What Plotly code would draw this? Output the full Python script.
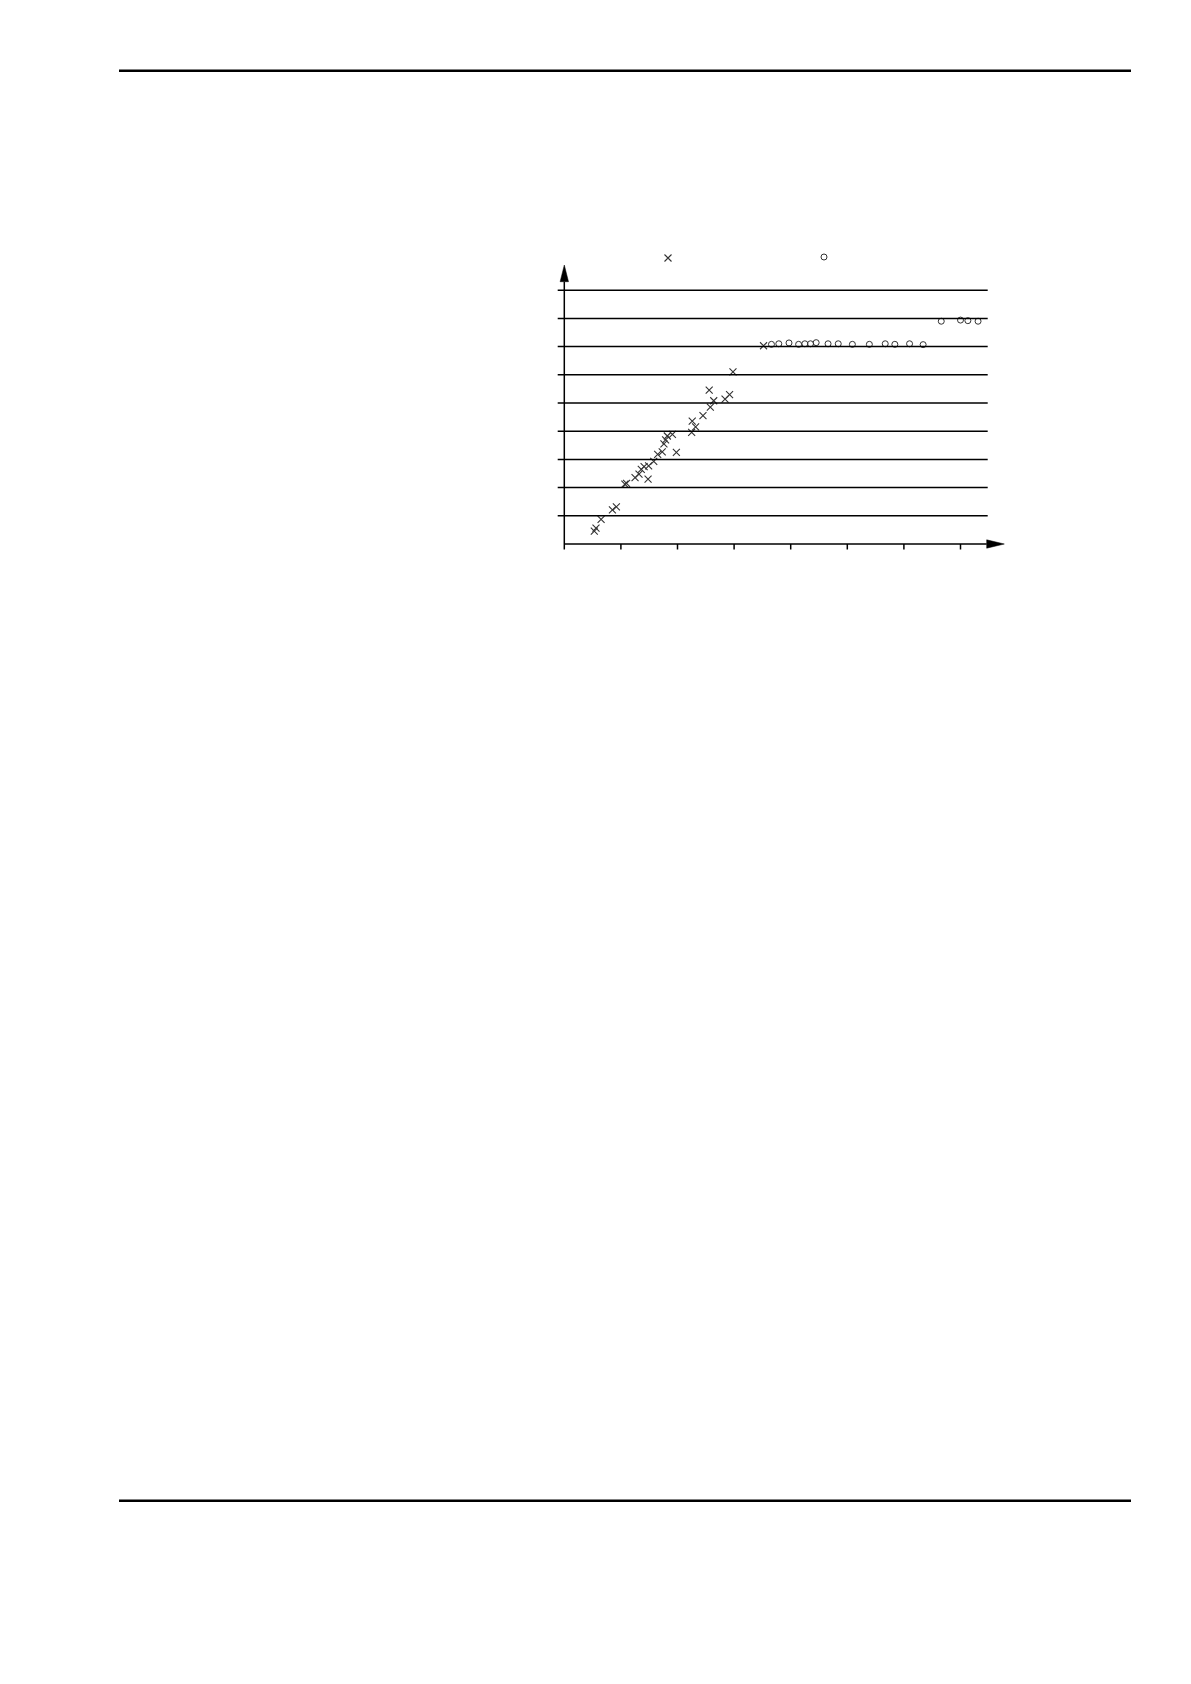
import plotly.graph_objects as go

# ---------------- data ----------------
cross_x = [0.53, 0.56, 0.65, 0.85, 0.92, 1.07, 1.10, 1.25, 1.32, 1.36, 1.41, 1.48, 1.49,
           1.58, 1.65, 1.73, 1.76, 1.79, 1.82, 1.91, 1.98, 2.25, 2.26, 2.32, 2.45, 2.56,
           2.58, 2.64, 2.84, 2.92, 2.98, 3.52]
cross_y = [0.46, 0.56, 0.87, 1.21, 1.32, 2.12, 2.15, 2.35, 2.48, 2.65, 2.74, 2.30, 2.77,
           2.93, 3.18, 3.27, 3.55, 3.69, 3.83, 3.89, 3.25, 3.96, 4.36, 4.15, 4.55, 5.46,
           4.85, 5.08, 5.14, 5.30, 6.10, 7.03]

circle_x = [3.66, 3.79, 3.97, 4.14, 4.25, 4.35, 4.45, 4.66, 4.84, 5.09, 5.39, 5.67, 5.84,
            6.10, 6.34, 6.66, 7.00, 7.13, 7.31]
circle_y = [7.08, 7.10, 7.13, 7.08, 7.10, 7.10, 7.14, 7.10, 7.10, 7.08, 7.08, 7.10, 7.08,
            7.10, 7.07, 7.90, 7.94, 7.92, 7.90]

x_ticks = [0, 1, 2, 3, 4, 5, 6, 7]
y_grid = [1, 2, 3, 4, 5, 6, 7, 8, 9]

# ---------------- layout constants ----------------
W, H = 1191, 1684
OFF = 8.0                    # page body margin compensation
X0_PX, XU = 564.3 - OFF, 56.6   # pixel of x=0, pixels per x unit
Y0_PX, YU = 544.0 - OFF, 28.2   # pixel (from top) of y=0, pixels per y unit

def px_x(p):
    return (p - OFF - X0_PX) / XU

def px_y(p):
    return (Y0_PX - (p - OFF)) / YU

x_range = [(0 - X0_PX) / XU, (W - X0_PX) / XU]
y_range = [(Y0_PX - H) / YU, Y0_PX / YU]

grid_x0 = px_x(557.7)
grid_x1 = px_x(987.7)
yaxis_top = px_y(281.7)
yarrow_tip = px_y(265.0)
xaxis_end = px_x(986.7)
xarrow_tip = px_x(1004.3)
xtick_len = px_y(549.5)
arrow_hw_x = 4.2 / XU
arrow_hw_y = 4.2 / YU

LINE = "#000000"
LW = 1.5

fig = go.Figure()

fig.add_trace(go.Scatter(
    x=cross_x, y=cross_y, mode="markers", name=" ",
    marker=dict(symbol="x-thin-open", size=7, color="#333333",
                line=dict(width=1.1, color="#333333")),
    legend="legend", showlegend=True,
))
fig.add_trace(go.Scatter(
    x=circle_x, y=circle_y, mode="markers", name=" ",
    marker=dict(symbol="circle-open", size=6, color="#333333",
                line=dict(width=1, color="#333333")),
    legend="legend2", showlegend=True,
))

shapes = []
for v in y_grid:
    shapes.append(dict(type="line", xref="x", yref="y", x0=grid_x0, x1=grid_x1, y0=v, y1=v,
                       line=dict(color=LINE, width=LW)))
for v in x_ticks:
    shapes.append(dict(type="line", xref="x", yref="y", x0=v, x1=v, y0=0, y1=xtick_len,
                       line=dict(color=LINE, width=LW)))
# axes
shapes.append(dict(type="line", xref="x", yref="y", x0=0, x1=0, y0=0, y1=yaxis_top,
                   line=dict(color=LINE, width=LW)))
shapes.append(dict(type="line", xref="x", yref="y", x0=0, x1=xaxis_end, y0=0, y1=0,
                   line=dict(color=LINE, width=LW)))
# arrow heads
shapes.append(dict(type="path", xref="x", yref="y",
                   path=f"M {-arrow_hw_x} {yaxis_top} L {arrow_hw_x} {yaxis_top} L 0 {yarrow_tip} Z",
                   fillcolor=LINE, line=dict(color=LINE, width=0.5)))
shapes.append(dict(type="path", xref="x", yref="y",
                   path=f"M {xaxis_end} {-arrow_hw_y} L {xaxis_end} {arrow_hw_y} L {xarrow_tip} 0 Z",
                   fillcolor=LINE, line=dict(color=LINE, width=0.5)))
# page header / footer rules
for ypx in (70.7, 1500.7):
    yp = 1 - (ypx - OFF) / H
    shapes.append(dict(type="line", xref="paper", yref="paper",
                       x0=(119 - OFF) / W, x1=(1131 - OFF) / W, y0=yp, y1=yp,
                       line=dict(color=LINE, width=2.4)))

fig.update_layout(
    width=W, height=H,
    margin=dict(l=0, r=0, t=0, b=0),
    paper_bgcolor="white", plot_bgcolor="white",
    xaxis=dict(range=x_range, visible=False, fixedrange=True),
    yaxis=dict(range=y_range, visible=False, fixedrange=True),
    shapes=shapes,
    font=dict(family="Liberation Sans", size=10, color="black"),
    legend=dict(x=(668 - 20 - OFF) / W, y=1 - (258 - OFF) / H, xanchor="left", yanchor="middle",
                bgcolor="rgba(0,0,0,0)", borderwidth=0, itemsizing="trace"),
    legend2=dict(x=(824 - 20 - OFF) / W, y=1 - (257 - OFF) / H, xanchor="left", yanchor="middle",
                 bgcolor="rgba(0,0,0,0)", borderwidth=0, itemsizing="trace"),
)

fig.write_html("out.html")
